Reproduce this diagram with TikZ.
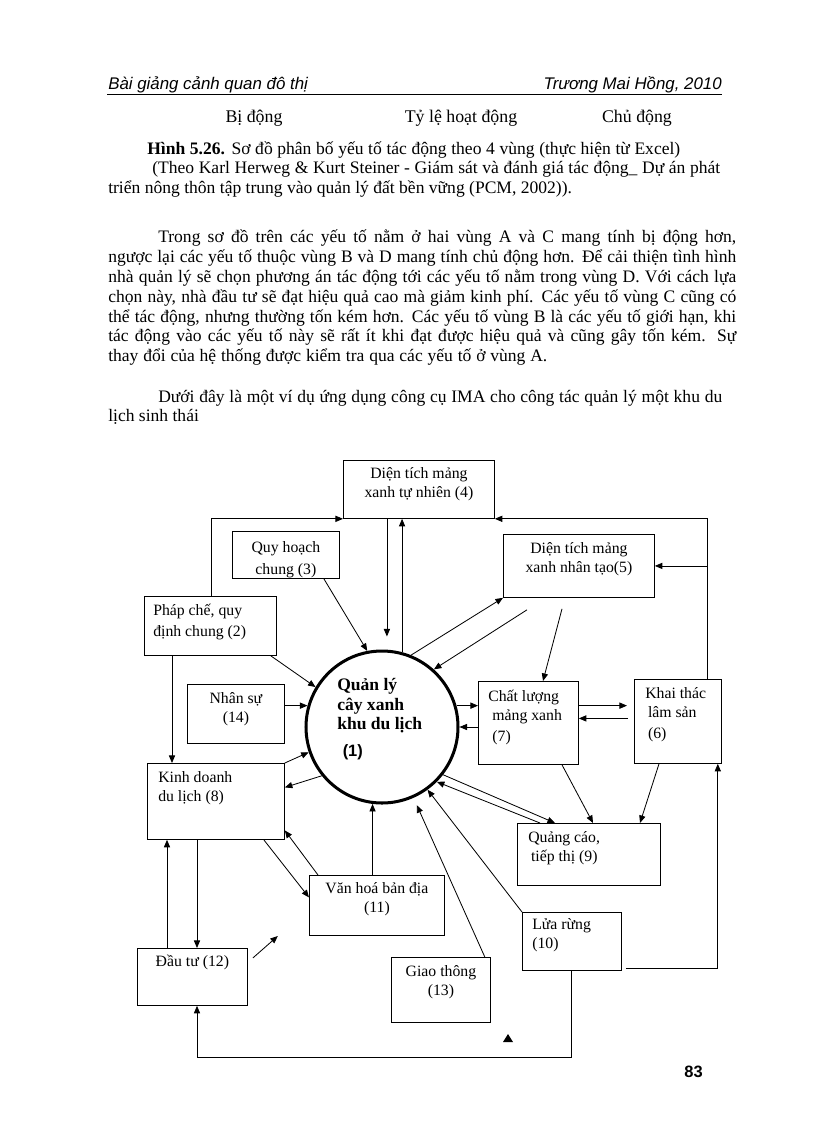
\documentclass[tikz,border=0pt]{standalone}
\usepackage{fontspec}
\setmainfont{Liberation Serif}
\setsansfont{Liberation Sans}
\usetikzlibrary{arrows.meta}
\newdimen\pxu \pxu=0.7295pt
\newcommand{\jline}[2]{\makebox[#1\pxu][s]{#2}}
\newcommand{\boxstrut}{\rule{0pt}{10pt}}
\tikzset{
    flow-box/.style = {draw, line width=0.6pt, rectangle, inner sep=0pt, anchor=north west},
    flow-text/.style = {inner sep=0pt, font=\fontsize{11.5}{13.8}\selectfont},
    flow-arrow/.style = {-{Triangle[length=5.5pt,width=4.5pt]}, line width=0.6pt},
    body-line/.style = {anchor=base west, inner sep=0pt, font=\fontsize{12.8}{15}\selectfont},
}

\begin{document}
\begin{tikzpicture}[x=0.7295pt, y=-0.7295pt]
\useasboundingbox (0,0) rectangle (816,1123);

\node[anchor=base west, inner sep=0pt, font=\sffamily\itshape\fontsize{12.3}{14}\selectfont] (head-l) at (108,89) {Bài giảng cảnh quan đô thị};
\node[anchor=base east, inner sep=0pt, font=\sffamily\itshape\fontsize{12.3}{14}\selectfont] (head-r) at (722,89) {Trương Mai Hồng, 2010};
\draw[line width=0.5pt] (107,94) -- (722,94);

\node[anchor=base, inner sep=0pt, font=\fontsize{13}{15}\selectfont] (bi-dong) at (254,122) {Bị động};
\node[anchor=base, inner sep=0pt, font=\fontsize{13}{15}\selectfont] (ty-le) at (461,122) {Tỷ lệ hoạt động};
\node[anchor=base, inner sep=0pt, font=\fontsize{13}{15}\selectfont] (chu-dong) at (637,122) {Chủ động};

\node[body-line] (cap-1) at (147,154) {\jline{533}{\textbf{Hình 5.26.} Sơ đồ phân bố yếu tố tác động theo 4 vùng (thực hiện từ Excel)}};
\node[body-line] (cap-2) at (152,173) {\jline{568}{(Theo Karl Herweg \& Kurt Steiner - Giám sát và đánh giá tác động\_ Dự án phát}};
\node[body-line] (cap-3) at (108,193) {triển nông thôn tập trung vào quản lý đất bền vững (PCM, 2002)).};

\node[body-line] (par-1) at (158,242) {\jline{578}{Trong sơ đồ trên các yếu tố nằm ở hai vùng A và C mang tính bị động hơn,}};
\node[body-line] (par-2) at (108,262) {\jline{628}{ngược lại các yếu tố thuộc vùng B và D mang tính chủ động hơn. Để cải thiện tình hình}};
\node[body-line] (par-3) at (108,282) {\jline{628}{nhà quản lý sẽ chọn phương án tác động tới các yếu tố nằm trong vùng D. Với cách lựa}};
\node[body-line] (par-4) at (108,302) {\jline{628}{chọn này, nhà đầu tư sẽ đạt hiệu quả cao mà giảm kinh phí. Các yếu tố vùng C cũng có}};
\node[body-line] (par-5) at (108,322) {\jline{628}{thể tác động, nhưng thường tốn kém hơn. Các yếu tố vùng B là các yếu tố giới hạn, khi}};
\node[body-line] (par-6) at (108,341) {\jline{628}{tác động vào các yếu tố này sẽ rất ít khi đạt được hiệu quả và cũng gây tốn kém. Sự}};
\node[body-line] (par-7) at (108,361) {\jline{439}{thay đổi của hệ thống được kiểm tra qua các yếu tố ở vùng A.}};
\node[body-line] (par-8) at (158,402) {\jline{564}{Dưới đây là một ví dụ ứng dụng công cụ IMA cho công tác quản lý một khu du}};
\node[body-line] (par-9) at (108,421) {lịch sinh thái};

\node[flow-box, minimum width=151\pxu, minimum height=58\pxu] (b4) at (343,460) {};
\node[flow-box, minimum width=107\pxu, minimum height=47\pxu] (b3) at (232,531) {};
\node[flow-box, minimum width=151\pxu, minimum height=63\pxu] (b5) at (503,534) {};
\node[flow-box, minimum width=132\pxu, minimum height=59\pxu] (b2) at (144,596) {};
\node[flow-box, minimum width=97\pxu, minimum height=59\pxu] (b14) at (187,684) {};
\node[flow-box, minimum width=100\pxu, minimum height=83\pxu] (b7) at (478,681) {};
\node[flow-box, minimum width=87\pxu, minimum height=84\pxu] (b6) at (634,679) {};
\node[flow-box, minimum width=137\pxu, minimum height=76\pxu] (b8) at (147,763) {};
\node[flow-box, minimum width=143\pxu, minimum height=62\pxu] (b9) at (517,823) {};
\node[flow-box, minimum width=135\pxu, minimum height=60\pxu] (b11) at (309,875) {};
\node[flow-box, minimum width=99\pxu, minimum height=58\pxu] (b10) at (522,912) {};
\node[flow-box, minimum width=110\pxu, minimum height=57\pxu] (b12) at (137,948) {};
\node[flow-box, minimum width=99\pxu, minimum height=65\pxu] (b13) at (391,957) {};
\node[draw, circle, line width=2.2pt, minimum size=152\pxu, inner sep=0pt] (c1) at (382,727) {};

\node[flow-text, align=center, anchor=north] at ([yshift=-5\pxu]b4.north) {\boxstrut Diện tích mảng\\xanh tự nhiên (4)};
\begin{scope}
\clip (b3.south west) rectangle (b3.north east);
\node[flow-text, align=center, anchor=north] at ([yshift=-8\pxu]b3.north) {\boxstrut Quy hoạch\\[2pt]chung (3)};
\end{scope}
\node[flow-text, align=center, anchor=north] at ([yshift=-6\pxu]b5.north) {\boxstrut Diện tích mảng\\xanh nhân tạo(5)};
\node[flow-text, align=left, anchor=north west] at ([xshift=9\pxu, yshift=-6\pxu]b2.north west) {\boxstrut Pháp chế, quy\\[1.5pt]định chung (2)};
\node[flow-text, align=center, anchor=north] at ([yshift=-6\pxu]b14.north) {\boxstrut Nhân sự\\(14)};
\node[flow-text, align=left, anchor=north west] at ([xshift=10\pxu, yshift=-7\pxu]b7.north west) {\boxstrut Chất lượng\\\hspace*{3pt}mảng xanh\\[1.5pt]\hspace*{3pt}(7)};
\node[flow-text, align=left, anchor=north west] at ([xshift=11\pxu, yshift=-6\pxu]b6.north west) {\boxstrut Khai thác\\\hspace*{2pt}lâm sản\\[1.5pt]\hspace*{2pt}(6)};
\node[flow-text, align=left, anchor=north west] at ([xshift=11\pxu, yshift=-6\pxu]b8.north west) {\boxstrut Kinh doanh\\du lịch (8)};
\node[flow-text, align=left, anchor=north west] at ([xshift=11\pxu, yshift=-6\pxu]b9.north west) {\boxstrut Quảng cáo,\\\hspace*{2pt}tiếp thị (9)};
\node[flow-text, align=center, anchor=north] at ([yshift=-5\pxu]b11.north) {\boxstrut Văn hoá bản địa\\(11)};
\node[flow-text, align=left, anchor=north west] at ([xshift=10\pxu, yshift=-4\pxu]b10.north west) {\boxstrut Lửa rừng\\(10)};
\node[flow-text, align=center, anchor=north] at ([yshift=-5\pxu]b12.north) {\boxstrut Đầu tư (12)};
\node[flow-text, align=center, anchor=north] at ([yshift=-6\pxu]b13.north) {\boxstrut Giao thông\\(13)};
\node[flow-text, align=left, anchor=north west, font=\bfseries\fontsize{12.8}{13.9}\selectfont] at ([xshift=-45\pxu, yshift=50\pxu]c1.center) {\boxstrut Quản lý\\cây xanh\\khu du lịch\\[6pt]\hspace*{4pt}{\sffamily\fontsize{12}{13.9}\selectfont (1)}};

\draw[flow-arrow] ([xshift=67\pxu]b2.north west) |- (b4.south west);
\draw[flow-arrow] ([xshift=-14\pxu]b6.north east) |- (b4.south east);
\draw[flow-arrow] ([xshift=-14\pxu]b6.north east |- b5.east) -- (b5.east);
\draw[flow-arrow, shorten >=13\pxu] ([xshift=-32\pxu]b4.south) -- ([xshift=-32\pxu]b4.south |- c1.north);
\draw[flow-arrow] (c1.75) -- (c1.75 |- b4.south);
\draw[flow-arrow] ([xshift=38\pxu]b3.south) -- (c1.101);
\draw[flow-arrow] ([xshift=-6\pxu]b2.south east) -- (c1.149);
\draw[flow-arrow] (c1.164 -| b14.east) -- (c1.164);
\draw[flow-arrow] ([xshift=28\pxu]b2.south west) -- ([xshift=28\pxu]b2.south west |- b8.north);
\draw[flow-arrow] (b8.north east) -- (c1.199);
\draw[flow-arrow] (c1.219) -- ([yshift=14\pxu]b8.east);
\draw[flow-arrow] ([xshift=9\pxu]b11.north west) -- ([yshift=-29\pxu]b8.east);
\draw[flow-arrow] ([xshift=-21\pxu]b8.south east) -- ([yshift=8\pxu]b11.west);
\draw[flow-arrow] (c1.263 |- b11.north) -- (c1.263);
\draw[flow-arrow] ([xshift=5\pxu, yshift=-10\pxu]b12.north east) -- ++(25,-22);
\draw[flow-arrow] ([xshift=20\pxu]b8.south west |- b12.north) -- ([xshift=20\pxu]b8.south west);
\draw[flow-arrow] ([xshift=50\pxu]b8.south west) -- ([xshift=50\pxu]b8.south west |- b12.north);
\draw[flow-arrow] (c1.68) -- (b5.south west);
\draw[flow-arrow] ([xshift=24\pxu, yshift=-12\pxu]b5.south west) -- (c1.48);
\draw[flow-arrow] ([xshift=59\pxu, yshift=-11\pxu]b5.south west) -- ([xshift=65\pxu]b7.north west);
\draw[flow-arrow] (c1.16) -- (c1.16 -| b7.west);
\draw[flow-arrow] (b7.west |- c1.east) -- (c1.east);
\draw[flow-arrow, shorten >=7\pxu] (c1.16 -| b7.east) -- (c1.16 -| b6.west);
\draw[flow-arrow, shorten <=6\pxu] ([yshift=3\pxu]b6.west) -- ([yshift=3\pxu]b6.west -| b7.east);
\draw[flow-arrow] ([xshift=84\pxu]b7.south west) -- ([xshift=76\pxu]b9.north west);
\draw[flow-arrow] ([xshift=25\pxu]b6.south west) -- ([xshift=123\pxu]b9.north west);
\draw[flow-arrow] (c1.-38) -- ([xshift=38\pxu]b9.north west);
\draw[flow-arrow] ([xshift=23\pxu]b9.north west) -- (c1.-45);
\draw[flow-arrow] (b10.north west) -- (c1.-54);
\draw[flow-arrow, shorten >=8\pxu] ([xshift=-6\pxu]b13.north east) -- (c1.-66);
\draw[flow-arrow] ([xshift=4\pxu, yshift=2\pxu]b10.south east) -| ([xshift=-4\pxu]b6.south east);
\draw[flow-arrow] ([xshift=49\pxu]b10.south west) |- ([xshift=60\pxu, yshift=-52\pxu]b12.south west) -- ([xshift=60\pxu]b12.south west);
\fill (503,1042) -- (513,1042) -- (508,1034) -- cycle;

\node[anchor=base east, inner sep=0pt, font=\sffamily\bfseries\fontsize{12}{14}\selectfont] (page-no) at (703,1077) {83};
\end{tikzpicture}
\end{document}
